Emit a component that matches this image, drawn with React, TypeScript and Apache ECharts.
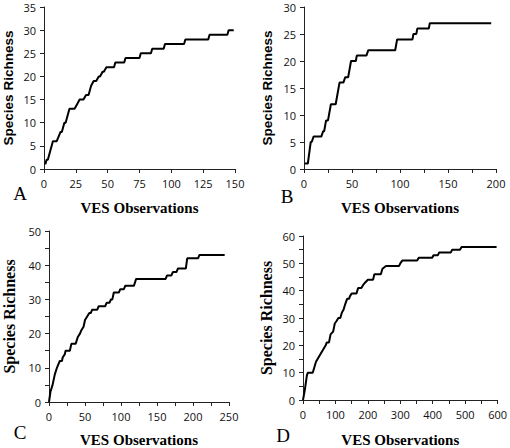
import React, { useEffect, useRef } from "react";
import * as echarts from "echarts";

// Panel A: [VES observations, cumulative species richness]
const curveA: [number, number][] = [
  [1, 1], [2, 2], [3, 2], [7, 6], [10, 6], [13, 8], [14, 8], [16, 10], [17, 10], [18, 11],
  [20, 13], [24, 13], [26, 14], [28, 15], [31, 15], [33, 16], [35, 16], [37, 18], [39, 19],
  [41, 19], [43, 20], [44, 20], [46, 21], [47, 21], [49, 22], [55, 22], [56, 23], [63, 23],
  [64, 24], [75, 24], [76, 25], [84, 25], [85, 26], [94, 26], [95, 27], [110, 27], [111, 28],
  [129, 28], [130, 29], [144, 29], [145, 30], [149, 30],
];
// Panel B
const curveB: [number, number][] = [
  [1, 1], [4, 1], [7, 5], [8, 5], [10, 6], [18, 6], [20, 7], [21, 7], [23, 9], [25, 9],
  [28, 12], [33, 12], [37, 16], [41, 16], [43, 17], [46, 17], [49, 20], [54, 20], [55, 21],
  [65, 21], [67, 22], [95, 22], [97, 24], [113, 24], [114, 25], [117, 25], [118, 26],
  [130, 26], [131, 27], [195, 27],
];
// Panel C
const curveC: [number, number][] = [
  [0, 0], [2, 3], [5, 5], [8, 8], [11, 10], [13, 11], [15, 12], [18, 12], [19, 13], [22, 14],
  [23, 15], [29, 15], [31, 17], [37, 17], [40, 19], [43, 20], [45, 21], [48, 22], [50, 24],
  [53, 25], [56, 26], [58, 26], [60, 27], [67, 27], [69, 28], [78, 28], [80, 29], [84, 29],
  [86, 30], [88, 30], [90, 32], [97, 32], [99, 33], [104, 33], [106, 34], [118, 34],
  [121, 36], [162, 36], [164, 37], [170, 37], [172, 38], [177, 38], [179, 39], [190, 39],
  [192, 42], [207, 42], [209, 43], [244, 43],
];
// Panel D
const curveD: [number, number][] = [
  [0, 0], [6, 4], [12, 9], [15, 10], [30, 10], [35, 12], [40, 14], [45, 15], [50, 16],
  [55, 17], [60, 18], [65, 19], [70, 20], [73, 21], [80, 21], [85, 24], [93, 25], [98, 28],
  [104, 29], [109, 30], [115, 30], [120, 32], [125, 33], [130, 35], [136, 37], [142, 37],
  [145, 38], [150, 39], [165, 39], [170, 41], [180, 41], [185, 42], [192, 43], [200, 44],
  [216, 44], [220, 46], [240, 46], [245, 48], [256, 49], [296, 49], [300, 50], [306, 51],
  [352, 51], [357, 52], [398, 52], [403, 53], [416, 53], [420, 54], [456, 54], [460, 55],
  [484, 55], [489, 56], [597, 56],
];

const xMax = [150, 200, 250, 600];
const xStep = [25, 25, 25, 50];
const xLabelEvery = [25, 50, 50, 100];
const yMax = [35, 30, 50, 60];
const yLabelEvery = [5, 5, 10, 10];
const panelLetters = ["A", "B", "C", "D"];
const xTitle = "VES Observations";
const yTitle = "Species Richness";

export default function App() {
  const ref = useRef<HTMLDivElement>(null);
  useEffect(() => {
    if (!ref.current) return;
    const chart = echarts.init(ref.current, undefined, { renderer: "svg" });
    const grids = [
      { left: 44, top: 7, width: 191, height: 162 },
      { left: 304, top: 7, width: 192, height: 162 },
      { left: 47, top: 231, width: 182, height: 174 },
      { left: 303, top: 236, width: 197, height: 165 },
    ];
    const xNameGap = [31, 31, 30, 32];
    const yNameGap = [29, 30, 32, 29];
    const ySerif = [false, false, true, true];
    const axisColor = "#222";
    const tickFont = { fontFamily: "Open Sans", fontSize: 11, color: "#111" };
    const curves = [curveA, curveB, curveC, curveD];
    const letterPos = [
      [20, 193],
      [287, 196],
      [20, 432],
      [283, 435],
    ];
    const option: echarts.EChartsCoreOption = {
      animation: false,
      backgroundColor: "#fff",
      grid: grids.map((g) => ({ ...g, containLabel: false })),
      xAxis: grids.map((_, i) => ({
        type: "value",
        gridIndex: i,
        min: 0,
        max: xMax[i],
        interval: xStep[i],
        name: xTitle,
        nameLocation: "middle",
        nameGap: xNameGap[i],
        nameTextStyle: {
          fontFamily: "Liberation Serif",
          fontWeight: "bold",
          fontSize: 15,
          color: "#000",
        },
        splitLine: { show: false },
        axisLine: { lineStyle: { color: axisColor, width: 1 } },
        axisTick: { length: 4, lineStyle: { color: axisColor } },
        axisLabel: {
          ...tickFont,
          margin: 9,
          formatter: (v: number) => (v % xLabelEvery[i] === 0 ? String(v) : ""),
        },
      })),
      yAxis: grids.map((_, i) => ({
        type: "value",
        gridIndex: i,
        min: 0,
        max: yMax[i],
        interval: 5,
        name: yTitle,
        nameLocation: "middle",
        nameGap: yNameGap[i],
        nameTextStyle: ySerif[i]
          ? { fontFamily: "Liberation Serif", fontWeight: "bold", fontSize: 16, color: "#000" }
          : { fontFamily: "Liberation Sans", fontWeight: "bold", fontSize: 13.5, color: "#000" },
        splitLine: { show: false },
        axisLine: { show: true, lineStyle: { color: axisColor, width: 1 } },
        axisTick: { show: true, length: 4, lineStyle: { color: axisColor } },
        axisLabel: {
          ...tickFont,
          margin: 8,
          formatter: (v: number) => (v % yLabelEvery[i] === 0 ? String(v) : ""),
        },
      })),
      series: curves.map((c, i) => ({
        type: "line",
        xAxisIndex: i,
        yAxisIndex: i,
        data: c,
        showSymbol: false,
        symbol: "none",
        lineStyle: { color: "#000", width: 2 },
      })),
      graphic: panelLetters.map((t, i) => ({
        type: "text",
        x: letterPos[i][0],
        y: letterPos[i][1],
        style: {
          text: t,
          fontFamily: "Liberation Serif",
          fontSize: 19,
          fill: "#000",
          align: "center",
          verticalAlign: "middle",
        },
      })),
    };
    chart.setOption(option);
    return () => chart.dispose();
  }, []);
  return (
    <div
      ref={ref}
      style={{ position: "fixed", left: 0, top: 0, width: 510, height: 448 }}
    />
  );
}
